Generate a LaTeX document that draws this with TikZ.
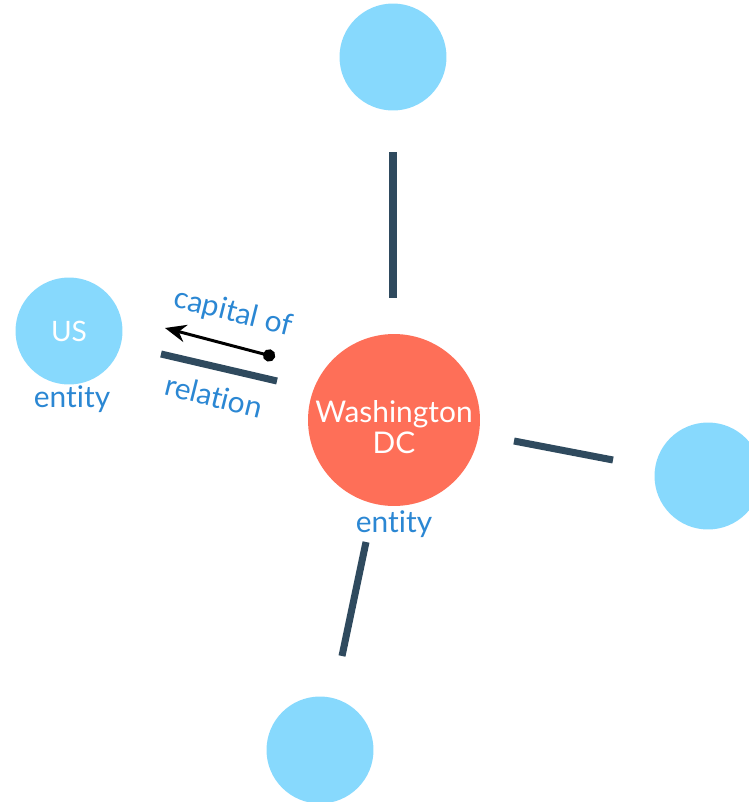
\documentclass[tikz,border=0pt]{standalone}
\usepackage{fontspec}
\setmainfont{Lato}[Ligatures=NoCommon]
\usetikzlibrary{arrows.meta}
\definecolor{entblue}{HTML}{87D9FD}
\definecolor{capred}{HTML}{FE6F58}
\definecolor{lblblue}{HTML}{2B87D3}
\definecolor{linkdark}{HTML}{2F4A5E}
\tikzset{
  ent/.style={circle, fill=entblue, minimum size=2.14cm, inner sep=0pt, text=white, font=\fontsize{16}{19}\selectfont},
  hub/.style={circle, fill=capred, minimum size=3.44cm, inner sep=0pt, text=white, align=center, font=\fontsize{17}{20}\selectfont},
  lbl/.style={text=lblblue, font=\fontsize{17}{20}\selectfont, inner sep=0pt},
  link/.style={linkdark, line width=4pt},
}
\begin{document}
\begin{tikzpicture}[x=0.02cm, y=-0.02cm]
  \useasboundingbox (0,0) rectangle (748,802);

  % entities
  \node[hub] (dc)  at (394,420) {};
  \node[hub, fill=none, minimum size=0pt] (dcname) at (394,427) {Washington\\[-2pt]DC};
  \node[ent] (us)  at (69,331)  {US};
  \node[ent] (top) at (393,57)  {};
  \node[ent] (rgt) at (708,476) {};
  \node[ent] (bot) at (320,750) {};

  \node[lbl] (usent) at (72,399)  {entity};
  \node[lbl] (dcent) at (394,524) {entity};

  % link ends
  \coordinate (t1) at (393,152);
  \coordinate (t2) at (393,298);
  \coordinate (r1) at (514,441);
  \coordinate (r2) at (613,460);
  \coordinate (b1) at (366,542);
  \coordinate (b2) at (342,656);
  \coordinate (l1) at (161,354);
  \coordinate (l2) at (277,381);

  \draw[link] (t1) -- (t2);
  \draw[link] (r1) -- (r2);
  \draw[link] (b1) -- (b2);
  \draw[link] (l1) -- (l2);

  % relation arrow
  \coordinate (a1) at (275,357);
  \coordinate (a2) at (165,328);
  \draw[line width=1.7pt, {Circle[length=7pt]}-{Stealth[length=12pt, width=10pt]}] (a1) -- (a2);

  \node[lbl, rotate=-14] (cap) at (233,313) {capital of};
  \node[lbl, rotate=-14] (rel) at (214,396) {relation};
\end{tikzpicture}
\end{document}
